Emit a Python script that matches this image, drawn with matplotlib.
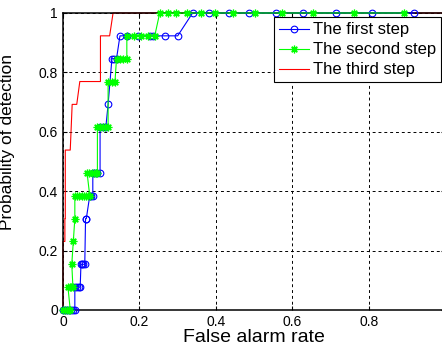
import numpy as np
import matplotlib
matplotlib.use("Agg")
import matplotlib.pyplot as plt

plt.rcParams['font.family'] = ['Liberation Sans', 'DejaVu Sans']

# detection rates are steps of 1/13
n = 13.0

# first step (blue, circles)
x1 = [0, 0.005, 0.01, 0.015, 0.02, 0.025, 0.031, 0.031, 0.036, 0.041, 0.045,
      0.047, 0.050, 0.053, 0.057, 0.059, 0.061, 0.070, 0.074, 0.078, 0.078,
      0.084, 0.090, 0.097, 0.097, 0.105, 0.112, 0.118, 0.128, 0.134, 0.140,
      0.149, 0.167, 0.196, 0.227, 0.235, 0.266, 0.300, 0.339, 0.381, 0.433,
      0.486, 0.556, 0.627, 0.715, 0.809, 0.919]
k1 = [0, 0, 0, 0, 0, 0, 0, 1, 1, 1, 1,
      2, 2, 2, 2, 4, 4, 5, 5, 5, 6,
      6, 6, 6, 8, 8, 8, 9, 11, 11, 11,
      12, 12, 12, 12, 12, 12, 12, 13, 13, 13,
      13, 13, 13, 13, 13, 13]

# second step (green, stars)
x2 = [0, 0.005, 0.01, 0.015, 0.019, 0.013, 0.018, 0.022, 0.026, 0.023, 0.027,
      0.031, 0.031, 0.037, 0.043, 0.049, 0.055, 0.060, 0.066, 0.070, 0.063,
      0.069, 0.075, 0.081, 0.086, 0.090, 0.090, 0.097, 0.104, 0.111, 0.118,
      0.118, 0.127, 0.136, 0.140, 0.150, 0.158, 0.167, 0.167, 0.185, 0.203,
      0.222, 0.240, 0.253, 0.274, 0.295, 0.324, 0.360, 0.397, 0.444, 0.501,
      0.572, 0.653, 0.760, 0.893]
k2 = [0, 0, 0, 0, 0, 1, 1, 1, 1, 2, 3,
      4, 5, 5, 5, 5, 5, 5, 5, 5, 6,
      6, 6, 6, 6, 6, 8, 8, 8, 8, 8,
      10, 10, 10, 11, 11, 11, 11, 12, 12, 12,
      12, 12, 13, 13, 13, 13, 13, 13, 13, 13,
      13, 13, 13, 13]

# third step (red, line only)
x3 = [0, 0, 0.005, 0.005, 0.006, 0.006, 0.019, 0.024, 0.036, 0.044, 0.098,
      0.098, 0.122, 0.131, 1.0]
k3 = [0, 3, 3, 4, 4, 7, 7, 9, 9, 10, 10,
      12, 12, 13, 13]

labels = ["The first step", "The second step", "The third step"]
xticks = [0, 0.2, 0.4, 0.6, 0.8]
yticks = [0, 0.2, 0.4, 0.6, 0.8, 1]

fig = plt.figure(figsize=(4.42, 3.55), dpi=100)
# right edge of the axes sits just past the picture border
ax = fig.add_axes([0.1425, 0.1268, 0.865, 0.8366])

ax.plot(x1, np.array(k1) / n, color=(0, 0, 1), lw=0.8, marker='o',
        markersize=4.8, markerfacecolor='none', markeredgewidth=0.8,
        label=labels[0], clip_on=False, zorder=3)
ax.plot(x2, np.array(k2) / n, color=(0, 1, 0), lw=0.8, marker=(8, 2, 0),
        markersize=5.5, markeredgewidth=0.9,
        label=labels[1], clip_on=False, zorder=3)
ax.plot(x3, np.array(k3) / n, color=(1, 0, 0), lw=0.8,
        label=labels[2], clip_on=False, zorder=2)

ax.set_xlim(0, 1)
ax.set_ylim(0, 1)
ax.set_xticks(xticks)
ax.set_xticklabels(["0", "0.2", "0.4", "0.6", "0.8"])
ax.set_yticks(yticks)
ax.set_yticklabels(["0", "0.2", "0.4", "0.6", "0.8", "1"])
ax.tick_params(direction='in', length=3, labelsize=10, width=0.8,
               top=True, right=True)
ax.grid(True, color='black', linestyle=(0, (3, 3)), linewidth=0.7)
for s in ax.spines.values():
    s.set_linewidth(1.1)

ax.set_xlabel("False alarm rate", fontsize=14, labelpad=0)
ax.set_ylabel("Probability of detection", fontsize=12.5, labelpad=4)
ax.yaxis.set_label_coords(-0.125, 0.566)

leg = ax.legend(loc='upper right', fontsize=12, fancybox=False,
                framealpha=1, edgecolor='black', borderaxespad=0.27,
                handlelength=1.8, borderpad=0.3, labelspacing=0.3,
                handletextpad=0.25)
leg.get_frame().set_linewidth(0.8)

fig.savefig("out.png", dpi=100)
